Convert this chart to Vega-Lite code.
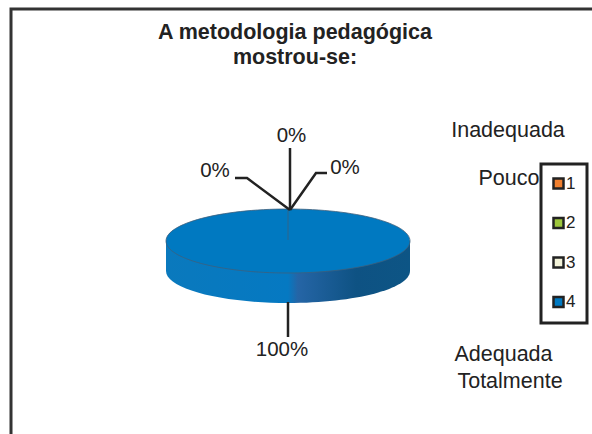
{
"$schema":"https://vega.github.io/schema/vega-lite/v6.json",
"width":592,"height":434,"padding":0,"autosize":{"type":"none"},
"background":"#ffffff",
"view":{"stroke":null},
"config":{"legend":{"strokeWidth":3}},
"data":{"values":[
{"slice":1,"value":0,"pct":"0%","name":"Inadequada"},
{"slice":2,"value":0,"pct":"0%","name":"Pouco"},
{"slice":3,"value":0,"pct":"0%","name":"Adequada"},
{"slice":4,"value":100,"pct":"100%","name":"Totalmente"}
]},
"title":{"text":["A metodologia pedagógica","mostrou-se:"],"font":"Liberation Sans","fontSize":21.5,"fontWeight":"bold","color":"#222222","anchor":"start","frame":"group","align":"center","dx":295,"dy":68,"lineHeight":25,"baseline":"top","offset":0},
"resolve":{"scale":{"x":"independent","y":"independent"}},
"layer":[
{"mark":{"type":"point","filled":false,"opacity":1,"size":4,"shape":"M0,430 L0,0 L585,0","stroke":"#333333","strokeWidth":3},
 "transform":[{"filter":"datum.value>0"}],
 "encoding":{
  "x":{"field":"value","type":"quantitative","scale":{"domain":[0,100],"range":[11,11]},"axis":null},
  "y":{"field":"value","type":"quantitative","scale":{"domain":[0,100],"range":[9,9]},"axis":null}
 }},
{"mark":{"type":"point","filled":true,"opacity":1,"shape":"square","size":100},
 "transform":[{"filter":"datum.value>0"}],
 "encoding":{
  "x":{"field":"value","type":"quantitative","scale":{"domain":[0,100],"range":[288,288]},"axis":null},
  "y":{"field":"value","type":"quantitative","scale":{"domain":[0,100],"range":[241,241]},"axis":null},
  "color":{"field":"slice","type":"nominal","scale":{"domain":[1,2,3,4],"range":["#f07f2e","#9dc63b","#f2f2d8","#0079c1"]},
   "legend":{"title":null,"orient":"none","legendX":541,"legendY":164,"symbolType":"square","symbolSize":100,"symbolStrokeColor":"#222222","symbolStrokeWidth":2.5,"symbolOffset":-2,"labelFont":"Liberation Sans","labelFontSize":17,"labelColor":"#222222","labelOffset":-1,"rowPadding":18.5,"padding":11,"strokeColor":"#222222"}}
 }},
{"mark":{"type":"point","filled":true,"opacity":1,"size":4,"shape":"M-122,0 L-122,30 A122,32 0 0 0 122,30 L122,0 Z","fill":{"gradient":"linear","x1":0,"x2":1,"y1":0,"y2":0,"stops":[{"offset":0,"color":"#0a79bd"},{"offset":0.5,"color":"#0579c2"},{"offset":0.54,"color":"#2565a6"},{"offset":0.78,"color":"#0e5283"},{"offset":1,"color":"#0d5585"}]}},
 "transform":[{"filter":"datum.value>0"}],
 "encoding":{
  "x":{"field":"value","type":"quantitative","scale":{"domain":[0,100],"range":[288,288]},"axis":null},
  "y":{"field":"value","type":"quantitative","scale":{"domain":[0,100],"range":[241,241]},"axis":null}
 }},
{"mark":{"type":"point","filled":true,"opacity":1,"size":4,"shape":"M-122,0 A122,32 0 1 1 122,0 A122,32 0 1 1 -122,0 Z M0,-31 L0,-1","fill":"#0079c1","stroke":"#3d5f7c","strokeWidth":0.8},
 "transform":[{"filter":"datum.value>0"}],
 "encoding":{
  "x":{"field":"value","type":"quantitative","scale":{"domain":[0,100],"range":[288,288]},"axis":null},
  "y":{"field":"value","type":"quantitative","scale":{"domain":[0,100],"range":[241,241]},"axis":null}
 }},
{"mark":{"type":"point","filled":false,"opacity":1,"size":4,"stroke":"#222222","strokeWidth":2.5},
 "encoding":{
  "x":{"field":"slice","type":"quantitative","scale":{"domain":[1,4],"range":[288,288]},"axis":null},
  "y":{"field":"slice","type":"quantitative","scale":{"domain":[1,4],"range":[241,241]},"axis":null},
  "shape":{"field":"name","type":"nominal","legend":null,"scale":{"domain":["Inadequada","Pouco","Adequada","Totalmente"],"range":["M-53,-63 L-41,-63 L2,-31","M2,-93 L2,-31","M2,-31 L28,-68 L39,-68","M0,61 L0,96"]}}
 }},
{"mark":{"type":"text","font":"Liberation Sans","fontSize":20.5,"color":"#222222","align":"center","baseline":"middle"},
 "encoding":{
  "text":{"field":"pct"},
  "x":{"field":"slice","type":"quantitative","scale":{"domain":[1,2,3,4],"range":[215,291.5,345,282]},"axis":null},
  "y":{"field":"slice","type":"quantitative","scale":{"domain":[1,2,3,4],"range":[171,136,168,349.5]},"axis":null}
 }},
{"mark":{"type":"text","font":"Liberation Sans","fontSize":21.5,"color":"#222222","align":"center","baseline":"middle"},
 "encoding":{
  "text":{"field":"name"},
  "x":{"field":"slice","type":"quantitative","scale":{"domain":[1,2,3,4],"range":[508,509,503.5,510]},"axis":null},
  "y":{"field":"slice","type":"quantitative","scale":{"domain":[1,2,3,4],"range":[131,179,355,382]},"axis":null}
 }}
]
}
